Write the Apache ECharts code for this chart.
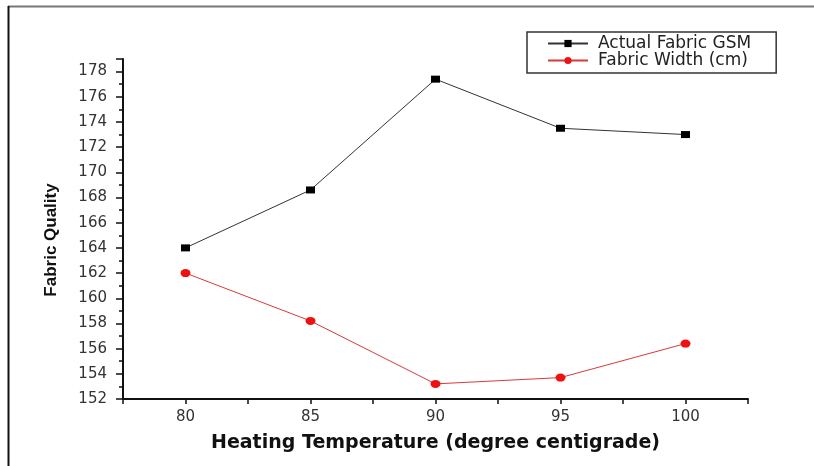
<!DOCTYPE html>
<html>
<head>
<meta charset="utf-8">
<script src="https://cdn.jsdelivr.net/npm/echarts@6/dist/echarts.min.js"></script>
<style>
html,body{margin:0;padding:0;background:#fff;}
#c{width:814px;height:466px;}
</style>
</head>
<body>
<div id="c"></div>
<script>
var temperatures = [80, 85, 90, 95, 100];
var actualGSM = [164.0, 168.6, 177.4, 173.5, 173.0];
var fabricWidth = [162.0, 158.2, 153.2, 153.7, 156.4];
var seriesNames = ['Actual Fabric GSM', 'Fabric Width (cm)'];
var xTitle = 'Heating Temperature (degree centigrade)';
var yTitle = 'Fabric Quality';

function pairs(xs, ys) { return xs.map(function (x, i) { return [x, ys[i]]; }); }

var FONT = 'DejaVu Sans, Verdana, sans-serif';
var chart = echarts.init(document.getElementById('c'));
chart.setOption({
  backgroundColor: '#fff',
  animation: false,
  grid: { left: 123, right: 66, top: 59, bottom: 67 },
  graphic: [
    { type: 'line', shape: { x1: 8, y1: 6.5, x2: 814, y2: 6.5 }, style: { stroke: '#777', lineWidth: 2 } },
    { type: 'line', shape: { x1: 8.5, y1: 6, x2: 8.5, y2: 466 }, style: { stroke: '#111', lineWidth: 2 } }
  ],
  legend: {
    orient: 'vertical',
    left: 527, top: 32,
    padding: [3, 25, 4, 20],
    itemGap: 0,
    itemWidth: 40, itemHeight: 9,
    borderColor: '#333', borderWidth: 1.5,
    textStyle: { fontFamily: FONT, fontSize: 17, lineHeight: 16, color: '#222', padding: [0, 0, 0, 5] },
    data: seriesNames
  },
  xAxis: {
    type: 'value', min: 77.5, max: 102.5, interval: 2.5,
    name: xTitle, nameLocation: 'middle', nameGap: 35,
    nameTextStyle: { fontFamily: FONT, fontSize: 19, fontWeight: 'bold', color: '#111' },
    axisLine: { show: true, lineStyle: { color: '#111', width: 2 } },
    axisTick: { show: true, inside: false, length: 5, lineStyle: { color: '#111', width: 1.5 } },
    axisLabel: {
      margin: 11, fontFamily: FONT, fontSize: 15, color: '#333',
      formatter: function (v) { return (Math.abs(v % 5) < 1e-6) ? String(v) : ''; }
    },
    splitLine: { show: false }
  },
  yAxis: [
    {
      type: 'value', min: 152, max: 179, interval: 2,
      name: yTitle, nameLocation: 'middle', nameGap: 63, nameRotate: 90,
      nameTextStyle: { fontFamily: 'Liberation Sans, Arial, sans-serif', fontSize: 17, fontWeight: 'bold', color: '#111', padding: [0, 22, 0, 0] },
      axisLine: { show: true, lineStyle: { color: '#111', width: 2 } },
      axisTick: { show: true, inside: false, length: 7, lineStyle: { color: '#111', width: 1.5 } },
      axisLabel: {
        margin: 16, fontFamily: FONT, fontSize: 15, color: '#333',
        formatter: function (v) { return (v % 2 === 0) ? String(v) : ''; }
      },
      splitLine: { show: false }
    },
    {
      type: 'value', min: 152, max: 179, interval: 1, position: 'left',
      axisLine: { show: false },
      axisTick: { show: true, inside: false, length: 4, lineStyle: { color: '#111', width: 1.5 } },
      axisLabel: { show: false },
      splitLine: { show: false }
    }
  ],
  series: [
    {
      name: seriesNames[0], type: 'line', data: pairs(temperatures, actualGSM),
      symbol: 'rect', symbolSize: [9, 7],
      itemStyle: { color: '#000' },
      lineStyle: { color: '#333', width: 1 }
    },
    {
      name: seriesNames[1], type: 'line', data: pairs(temperatures, fabricWidth),
      symbol: 'circle', symbolSize: [10, 8],
      itemStyle: { color: '#ee1111' },
      lineStyle: { color: '#d83a3a', width: 1 }
    }
  ]
});
</script>
</body>
</html>
